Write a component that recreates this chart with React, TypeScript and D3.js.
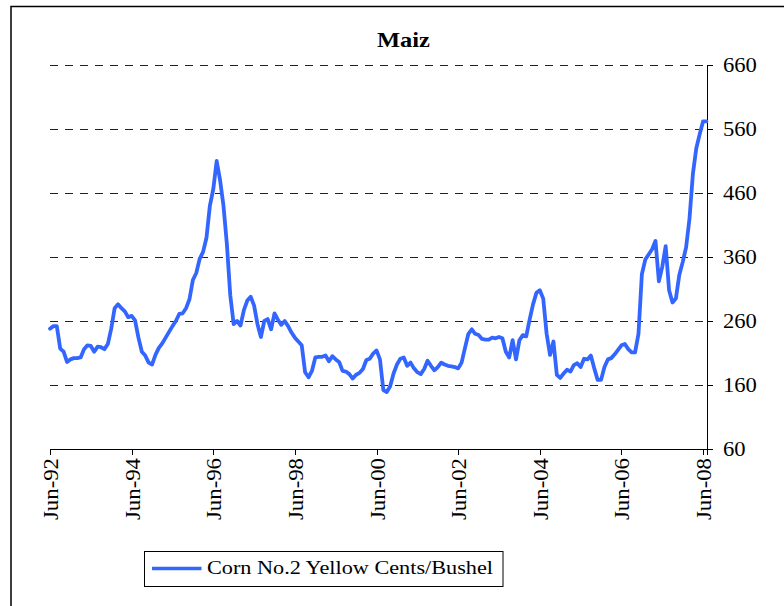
import React from "react";
import * as d3 from "d3";

const title = "Maiz";
const seriesName = "Corn No.2  Yellow Cents/Bushel";
// Monthly values starting Jun-92 (index 0) through Jul-08
const cornPrices: number[] = [
  248, 252, 252, 217, 212, 196, 200, 202, 202, 203,
  216, 222, 221, 212, 220, 219, 216, 224, 248, 280,
  286, 280, 275, 266, 268, 261, 234, 212, 206, 195,
  192, 207, 218, 225, 234, 243, 252, 260, 271, 272,
  280, 294, 324, 335, 357, 368, 390, 440, 466, 510,
  480, 440, 380, 300, 255, 260, 253, 277, 292, 298,
  284, 255, 235, 260, 263, 247, 272, 262, 254, 260,
  252, 242, 234, 228, 222, 180, 172, 182, 203, 204,
  204, 206, 197, 205, 200, 196, 182, 181, 177, 170,
  176, 179, 185, 199, 201, 209, 214, 200, 152, 149,
  158, 178, 192, 201, 203, 190, 195, 186, 180, 177,
  185, 198, 190, 183, 188, 195, 192, 190, 189, 188,
  186, 195, 218, 240, 247, 240, 238, 232, 231, 231,
  234, 233, 235, 233, 212, 203, 230, 200, 230, 238,
  236, 262, 286, 304, 308, 295, 240, 207, 228, 176,
  171, 178, 184, 181, 191, 194, 188, 201, 200, 206,
  186, 168, 168, 188, 200, 202, 208, 215, 222, 224,
  216, 211, 211, 240, 333, 356, 364, 372, 385, 322,
  345, 377, 308, 289, 295, 332, 352, 375, 420, 490,
  530, 552, 572, 572,
];
const yTicks = [60, 160, 260, 360, 460, 560, 660];
const gridValues = [160, 260, 360, 460, 560, 660];
const xTickIndex = [0, 24, 48, 72, 96, 120, 144, 168, 192];
const xTickLabels = ["Jun-92", "Jun-94", "Jun-96", "Jun-98", "Jun-00", "Jun-02", "Jun-04", "Jun-06", "Jun-08"];

const W = 784;
const H = 606;
const left = 50;
const right = 707;
const top = 65;
const bottom = 449;
const FONT = "'Liberation Serif', 'Times New Roman', serif";

export default function App() {
  const x = d3.scaleLinear().domain([0, 192]).range([left, 703.1]);
  const y = d3.scaleLinear().domain([60, 660]).range([bottom, top]);
  const line = d3
    .line<number>()
    .x((_, i) => x(i))
    .y((d) => y(d));

  return (
    <svg
      width={W}
      height={H}
      style={{ position: "absolute", left: 0, top: 0, background: "#fff" }}
      fontFamily={FONT}
    >
      <rect x={0} y={0} width={W} height={H} fill="#fff" />
      {/* outer frame */}
      <path d={`M11,${H + 2} L11,6.5 L${W + 2},6.5`} fill="none" stroke="#000" strokeWidth={1.5} />
      {/* title */}
      <text
        x={377}
        y={47}
        fontWeight="bold"
        fontSize={22}
        textLength={53}
        lengthAdjust="spacingAndGlyphs"
      >
        {title}
      </text>
      {/* gridlines */}
      {gridValues.map((v) => (
        <line
          key={v}
          x1={left}
          x2={right}
          y1={Math.round(y(v)) + 0.5}
          y2={Math.round(y(v)) + 0.5}
          stroke="#222"
          strokeWidth={1.2}
          strokeDasharray="8,7"
        />
      ))}
      {/* x axis */}
      <line x1={left} x2={right} y1={bottom + 0.5} y2={bottom + 0.5} stroke="#000" strokeWidth={1} />
      {xTickIndex.map((idx, k) => (
        <g key={idx}>
          <line
            x1={Math.round(x(idx)) + 0.5}
            x2={Math.round(x(idx)) + 0.5}
            y1={bottom}
            y2={bottom + 6}
            stroke="#000"
          />
          <text
            transform={`translate(${x(idx) + 1},458) rotate(-90)`}
            textAnchor="end"
            dominantBaseline="central"
            fontSize={20}
            textLength={62}
            lengthAdjust="spacingAndGlyphs"
          >
            {xTickLabels[k]}
          </text>
        </g>
      ))}
      {/* right y axis */}
      <line x1={right + 0.5} x2={right + 0.5} y1={top} y2={bottom + 6} stroke="#000" strokeWidth={1} />
      {yTicks.map((v) => (
        <g key={v}>
          <line
            x1={right}
            x2={right + 6}
            y1={Math.round(y(v)) + 0.5}
            y2={Math.round(y(v)) + 0.5}
            stroke="#000"
          />
          <text
            x={723}
            y={y(v)}
            dominantBaseline="central"
            fontSize={20}
            textLength={String(v).length * 11.3}
            lengthAdjust="spacingAndGlyphs"
          >
            {v}
          </text>
        </g>
      ))}
      {/* series */}
      <path
        d={line(cornPrices) || ""}
        fill="none"
        stroke="#3366ff"
        strokeWidth={3.8}
        strokeLinejoin="round"
        strokeLinecap="round"
      />
      {/* legend */}
      <rect x={144.5} y={551.5} width={358.5} height={35} fill="#fff" stroke="#000" strokeWidth={1} />
      <line x1={152} x2={201.5} y1={568.5} y2={568.5} stroke="#3366ff" strokeWidth={3.5} />
      <text
        x={207}
        y={573.5}
        fontSize={19.5}
        textLength={286}
        lengthAdjust="spacingAndGlyphs"
      >
        {seriesName}
      </text>
    </svg>
  );
}
